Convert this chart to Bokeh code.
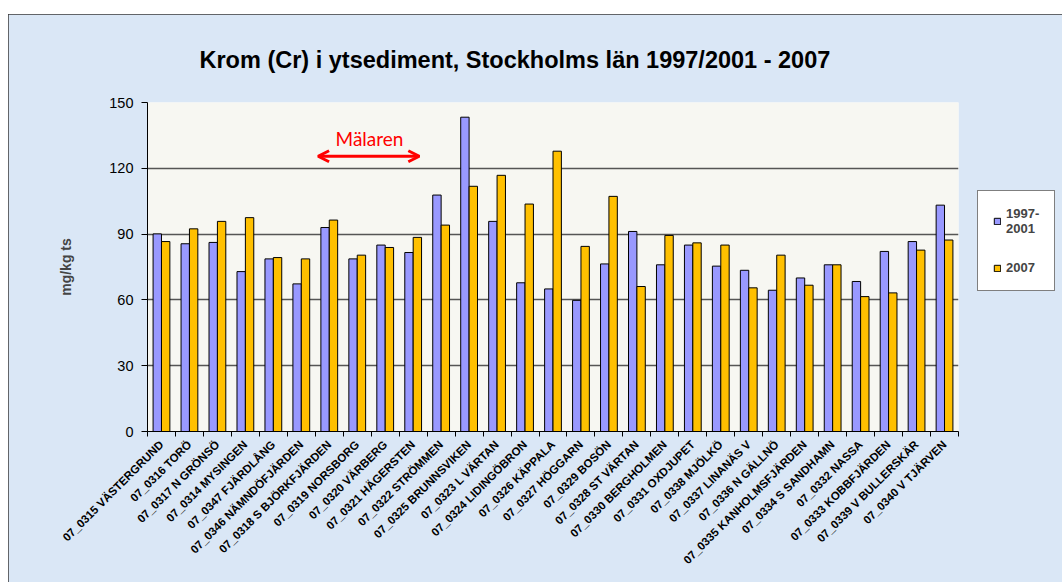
from bokeh.plotting import figure
from bokeh.models import (Range1d, FixedTicker, Label, Arrow, OpenHead, Legend,
                          LegendItem, ColumnDataSource)
from bokeh.transform import dodge
from bokeh.embed import file_html
from bokeh.resources import INLINE

stations = [
    "07_0315 VÄSTERGRUND", "07_0316 TORÖ", "07_0317 N GRÖNSÖ", "07_0314 MYSINGEN",
    "07_0347 FJÄRDLÅNG", "07_0346 NÄMNDÖFJÄRDEN", "07_0318 S BJÖRKFJÄRDEN",
    "07_0319 NORSBORG", "07_0320 VÄRBERG", "07_0321 HÄGERSTEN", "07_0322 STRÖMMEN",
    "07_0325 BRUNNSVIKEN", "07_0323 L VÄRTAN", "07_0324 LIDINGÖBRON", "07_0326 KÄPPALA",
    "07_0327 HÖGGARN", "07_0329 BOSÖN", "07_0328 ST VÄRTAN", "07_0330 BERGHOLMEN",
    "07_0331 OXDJUPET", "07_0338 MJÖLKÖ", "07_0337 LINANÄS V", "07_0336 N GÄLLNÖ",
    "07_0335 KANHOLMSFJÄRDEN", "07_0334 S SANDHAMN", "07_0332 NASSA",
    "07_0333 KOBBFJÄRDEN", "07_0339 V BULLERSKÄR", "07_0340 V TJÄRVEN",
]
values_1997_2001 = [90.1, 85.6, 86.2, 72.9, 78.7, 67.3, 93.0, 78.7, 85.0, 81.6,
                    107.8, 143.3, 95.8, 67.8, 65.0, 59.8, 76.4, 91.2, 76.0, 85.0,
                    75.4, 73.5, 64.4, 70.0, 76.0, 68.4, 82.1, 86.6, 103.2]
values_2007 = [86.6, 92.4, 95.8, 97.5, 79.3, 78.7, 96.4, 80.4, 83.9, 88.5,
               94.1, 111.8, 116.8, 103.7, 127.8, 84.4, 107.2, 66.1, 89.4, 86.0,
               85.0, 65.5, 80.4, 66.7, 76.0, 61.5, 63.2, 82.7, 87.3]
y_ticks = [0, 30, 60, 90, 120, 150]
series_names = ["1997-\n2001", "2007"]
title_text = "Krom (Cr) i ytsediment,  Stockholms län 1997/2001 - 2007"

n = len(stations)
centers = [i + 0.5 for i in range(n)]
src = ColumnDataSource(dict(x=centers, a=values_1997_2001, b=values_2007))

FONT = "Liberation Sans"
BG = "#dae7f6"

p = figure(frame_width=811, frame_height=329, output_backend="svg", toolbar_location=None,
           x_range=Range1d(0, n), y_range=Range1d(0, 150),
           min_border_left=139, min_border_right=104, min_border_top=88,
           min_border_bottom=151, title=title_text)
p.margin = (14, 0, 0, 8)
p.styles = {"outline": "1px solid #3a3a3a", "outline-offset": "-1px"}
p.border_fill_color = BG
p.background_fill_color = "#f7f7f2"
p.outline_line_color = None

p.title.align = "left"
p.title.offset = 52
p.title.vertical_align = "middle"
p.title.text_font = FONT
p.title.text_font_style = "bold"
p.title.text_font_size = "23.5px"
p.title.text_color = "black"
p.title.standoff = 58

r1 = p.vbar(x=dodge("x", -0.15), top="a", width=0.3, source=src,
            fill_color="#9999ff", line_color="black", line_width=1)
r2 = p.vbar(x=dodge("x", 0.15), top="b", width=0.3, source=src,
            fill_color="#ffc000", line_color="black", line_width=1)

# x axis
xa = p.xaxis[0]
xa.ticker = FixedTicker(ticks=centers, minor_ticks=list(range(n + 1)))
xa.major_label_overrides = {c: s for c, s in zip(centers, stations)}
xa.major_label_orientation = 0.785398
xa.major_tick_out = 0
xa.major_tick_in = 0
xa.minor_tick_out = 5
xa.minor_tick_in = 0
xa.minor_tick_line_color = "black"
xa.axis_line_color = "black"
xa.major_label_text_font = FONT
xa.major_label_text_font_style = "bold"
xa.major_label_text_font_size = "11.5px"
xa.major_label_text_color = "black"
xa.major_label_standoff = 6

# y axis
ya = p.yaxis[0]
ya.ticker = FixedTicker(ticks=y_ticks)
ya.major_tick_out = 6
ya.major_tick_in = 0
ya.minor_tick_line_color = None
ya.axis_line_color = "black"
ya.major_tick_line_color = "black"
ya.major_label_text_font = FONT
ya.major_label_text_font_size = "14.5px"
ya.major_label_text_color = "black"
ya.major_label_standoff = 8
ya.axis_label = "mg/kg ts"
ya.axis_label_text_font = FONT
ya.axis_label_text_font_style = "bold"
ya.axis_label_text_font_size = "14px"
ya.axis_label_standoff = 32

p.xgrid.grid_line_color = None
p.ygrid.grid_line_color = "#555555"
p.ygrid.grid_line_width = 1.5

# Mälaren annotation
p.add_layout(Label(x=222, y=293, x_units="screen", y_units="screen", text="Mälaren",
                   text_align="center", text_baseline="middle", text_font="Lato",
                   text_font_size="19px", text_color="#ff0000"))
p.add_layout(Arrow(x_start=6.1, x_end=9.72, y_start=125.5, y_end=125.5,
                   line_color="#ff0000", line_width=3,
                   start=OpenHead(size=11, line_color="#ff0000", line_width=3),
                   end=OpenHead(size=11, line_color="#ff0000", line_width=3)))

legend = Legend(items=[LegendItem(label=series_names[0], renderers=[r1]),
                       LegendItem(label=series_names[1], renderers=[r2])],
                location=(19, 140))
legend.label_text_font = FONT
legend.label_text_font_style = "bold"
legend.label_text_font_size = "13px"
legend.glyph_width = 8
legend.glyph_height = 8
legend.padding = 15
legend.spacing = 24
legend.margin = 0
legend.label_standoff = 5
legend.border_line_color = "black"
legend.border_line_width = 1
legend.background_fill_color = "white"
legend.background_fill_alpha = 1
p.add_layout(legend, "right")

open("out.html", "w").write(file_html(p, INLINE))
